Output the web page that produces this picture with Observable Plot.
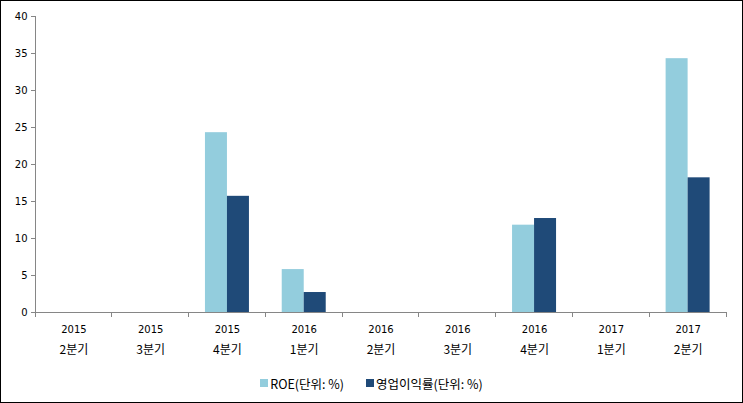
<!DOCTYPE html>
<html><head><meta charset="utf-8">
<script src="https://cdn.jsdelivr.net/npm/d3@7"></script>
<script src="https://cdn.jsdelivr.net/npm/@observablehq/plot@0.6"></script>
<style>
html,body{margin:0;padding:0;background:#fff;}
#wrap{position:relative;width:743px;height:403px;box-sizing:border-box;border:1px solid #000;background:#fff;overflow:hidden;}
#legend{position:absolute;left:0;top:371px;width:741px;text-align:center;font-family:"Noto Sans CJK KR","DejaVu Sans",sans-serif;font-size:12.5px;color:#000;}
#legend span.item{display:inline-flex;align-items:center;margin:0 11px;}
#legend span.sw{display:inline-block;width:8px;height:8px;margin-right:2px;}
</style></head>
<body><div id="wrap"><div id="chart"></div><div id="legend"></div></div>
<script>
const years = ["2015","2015","2015","2016","2016","2016","2016","2017","2017"];
const quarterNames = ["2분기","3분기","4분기","1분기","2분기","3분기","4분기","1분기","2분기"];
const roe = [null, null, 24.3, 5.8, null, null, 11.8, null, 34.3];
const opm = [null, null, 15.7, 2.7, null, null, 12.7, null, 18.2];
const seriesNames = ["ROE(단위: %)", "영업이익률(단위: %)"];
const seriesColors = ["#93CDDD", "#1F4A78"];
const yTicks = [0, 5, 10, 15, 20, 25, 30, 35, 40];

const keys = years.map((y, i) => y + " " + quarterNames[i]);
const roeData = keys.map((k, i) => ({k, v: roe[i]})).filter(d => d.v != null);
const opmData = keys.map((k, i) => ({k, v: opm[i]})).filter(d => d.v != null);

const W = 741, H = 370, mL = 34, mR = 16, mT = 15, mB = 59;
const step = (W - mL - mR) / keys.length;
const barW = step * 0.2865;
const outer = (step - 2 * barW) / 2;

const axisLines = (index, scales, values, dims) => {
  const g = d3.create("svg:g").attr("stroke", "#868686").attr("stroke-width", 1).attr("shape-rendering", "crispEdges");
  const x = scales.x, y = scales.y;
  const s = x(keys[1]) - x(keys[0]);
  const bounds = keys.map(k => x(k)).concat([x(keys[keys.length - 1]) + s]);
  const y0 = y(0);
  const left = bounds[0];
  g.append("line").attr("x1", left).attr("x2", bounds[bounds.length - 1]).attr("y1", y0).attr("y2", y0);
  g.append("line").attr("x1", left).attr("x2", left).attr("y1", y(40)).attr("y2", y0);
  for (const b of bounds) g.append("line").attr("x1", b).attr("x2", b).attr("y1", y0).attr("y2", y0 + 5);
  return g.node();
};

const chart = Plot.plot({
  width: W, height: H,
  marginLeft: mL, marginRight: mR, marginTop: mT, marginBottom: mB,
  style: {fontFamily: "'DejaVu Sans','Noto Sans CJK KR',sans-serif", fontSize: "10px", color: "#000", background: "#fff"},
  x: {domain: keys, padding: 0, round: false, axis: null},
  y: {domain: [0, 40], axis: null},
  marks: [
    Plot.barY(roeData, {x: "k", y: "v", fill: seriesColors[0], insetLeft: outer, insetRight: step - outer - barW}),
    Plot.barY(opmData, {x: "k", y: "v", fill: seriesColors[1], insetLeft: outer + barW, insetRight: outer}),
    axisLines,
    Plot.axisY({ticks: yTicks, tickSize: 4, stroke: "#868686", fill: "#000", tickPadding: 4, tickFormat: d => String(d), label: null}),
    Plot.axisX({tickSize: 0, tickPadding: 13, tickFormat: (d) => years[keys.indexOf(d)], label: null, fill: "#000"}),
    Plot.axisX({tickSize: 0, tickPadding: 33, tickFormat: (d) => quarterNames[keys.indexOf(d)], label: null, fill: "#000", fontFamily: "'Noto Sans CJK KR',sans-serif", fontSize: 12})
  ]
});
document.getElementById("chart").appendChild(chart);

const legend = document.getElementById("legend");
seriesNames.forEach((name, i) => {
  const item = document.createElement("span");
  item.className = "item";
  const sw = document.createElement("span");
  sw.className = "sw";
  sw.style.background = seriesColors[i];
  item.appendChild(sw);
  item.appendChild(document.createTextNode(name));
  legend.appendChild(item);
});
</script></body></html>
